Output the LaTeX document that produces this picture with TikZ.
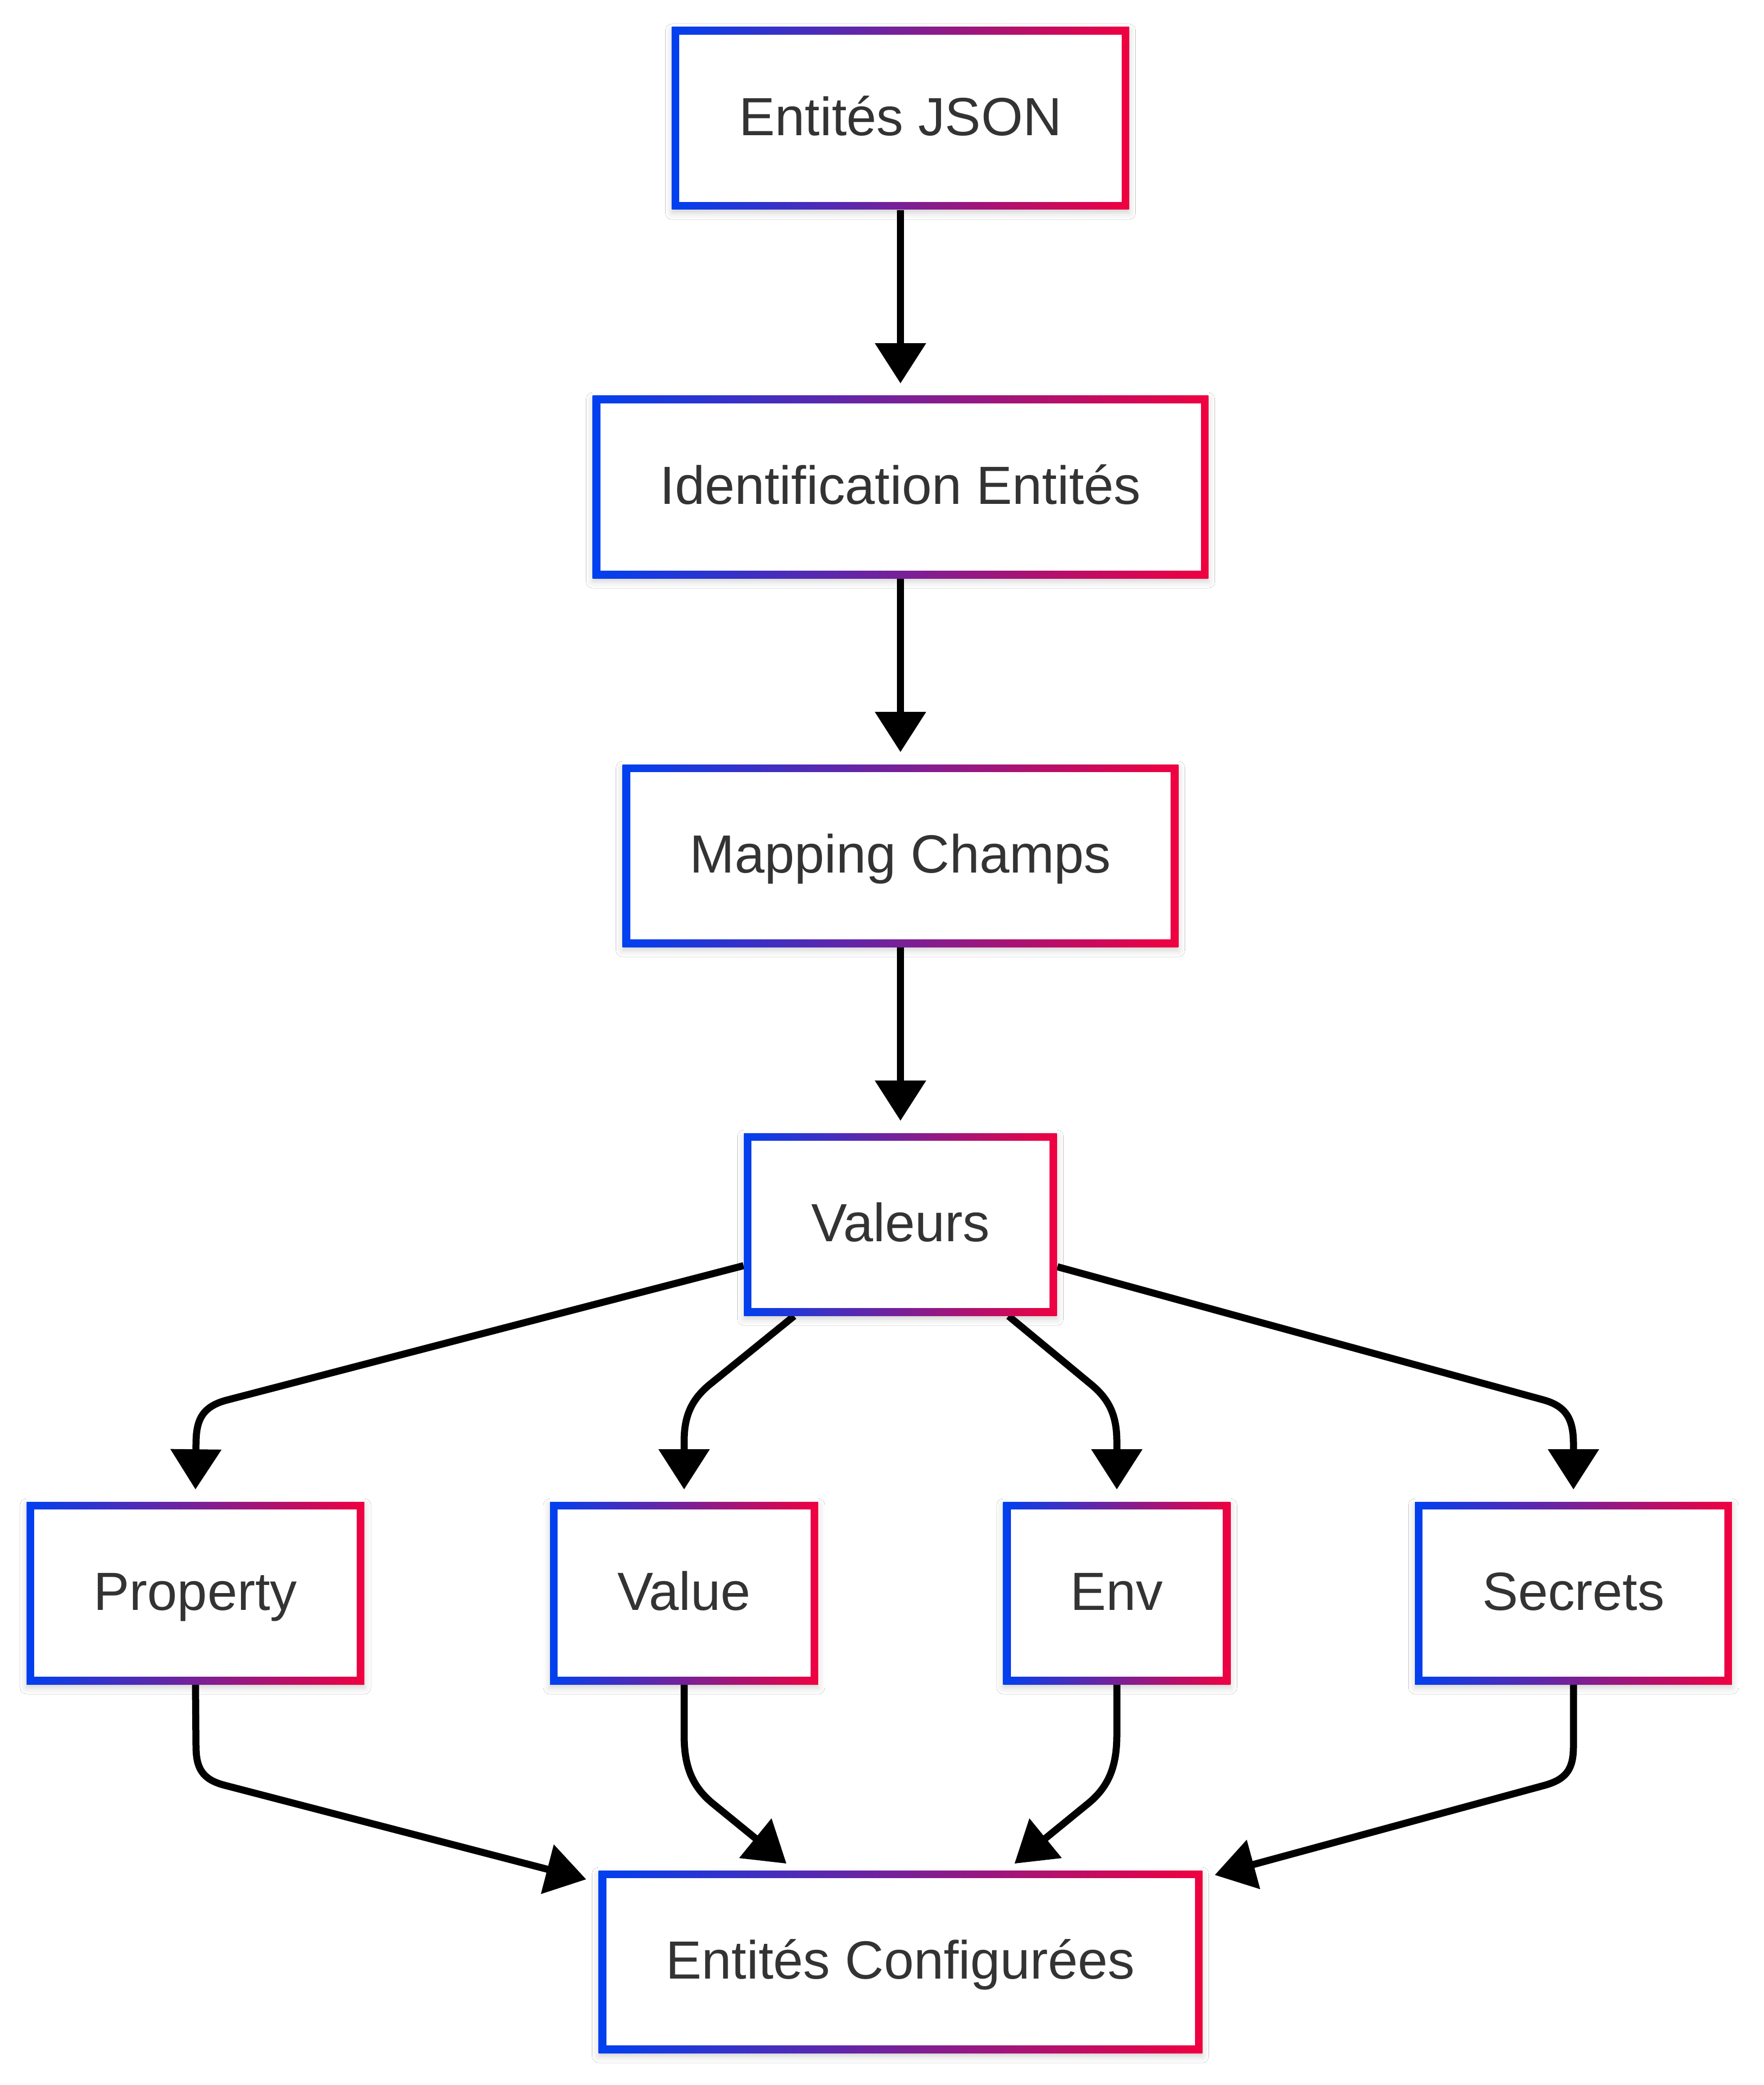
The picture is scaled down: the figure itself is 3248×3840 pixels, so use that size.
\documentclass[tikz,border=0pt]{standalone}
\usepackage{fontspec}
\setmainfont{Liberation Sans}
\usetikzlibrary{arrows.meta,calc,shadows.blur,backgrounds}
\definecolor{gblue}{RGB}{0,64,240}
\definecolor{gred}{RGB}{240,0,64}
\definecolor{txt}{RGB}{51,51,51}
\begin{document}
\begin{tikzpicture}[x=0.25pt,y=-0.25pt,
  box/.style={rectangle, draw=none, fill=white, minimum height=84pt,
    inner xsep=31pt, inner ysep=0pt, text height=17.3pt, text depth=1.35pt,
    font=\fontsize{24.75pt}{30pt}\selectfont, text=txt,
    blur shadow={shadow xshift=0pt, shadow yshift=-1.5pt, shadow blur radius=3pt, shadow opacity=18},
    path picture={
      \shade[left color=gblue, right color=gred]
        (path picture bounding box.south west) rectangle (path picture bounding box.north east);
      \fill[white]
        ([shift={(3.5pt,3.5pt)}]path picture bounding box.south west) rectangle
        ([shift={(-3.5pt,-3.5pt)}]path picture bounding box.north east);
    }},
  conn/.style={draw=black, line width=3.25pt, line join=round,
    -{Triangle[length=18.5pt,width=22.75pt]}}]
\useasboundingbox (0,0) rectangle (3248,3840);

\node[box] (J)  at (1658.5,218)  {Entités JSON};
\node[box] (I)  at (1658.5,897)  {Identification Entités};
\node[box] (M)  at (1658.5,1576) {Mapping Champs};
\node[box] (V)  at (1658.5,2255) {Valeurs};
\node[box] (P)  at (360,2934)    {Property};
\node[box] (Va) at (1260,2934)   {Value};
\node[box] (E)  at (2057,2934)   {Env};
\node[box] (S)  at (2898,2934)   {Secrets};
\node[box] (C)  at (1658.5,3613) {Entités Configurées};

\begin{scope}[on background layer]
\fill[white] (0,0) rectangle (3248,3840);
\draw[conn] (J.south) -- ($(I.north)+(0,-22)$);
\draw[conn] (I.south) -- ($(M.north)+(0,-22)$);
\draw[conn] (M.south) -- ($(V.north)+(0,-22)$);

\draw[conn] ($(V.west)+(0,76)$) -- (420,2578)
  .. controls (372,2590) and (361,2615) .. (361,2660) -- ($(P.north)+(0,-22)$);
\draw[conn] ($(V.south)+(-196,0)$) -- (1307,2550)
  .. controls (1272,2579) and (1260,2610) .. (1260,2655) -- ($(Va.north)+(0,-22)$);
\draw[conn] ($(V.south)+(199,0)$) -- (2010,2550)
  .. controls (2045,2579) and (2057,2610) .. (2057,2655) -- ($(E.north)+(0,-22)$);
\draw[conn] ($(V.east)+(0,78)$) -- (2842,2578)
  .. controls (2886,2590) and (2898,2615) .. (2898,2660) -- ($(S.north)+(0,-22)$);

\draw[conn] (P.south) -- (361,3215)
  .. controls (361,3255) and (371,3277) .. (414,3288) -- ($(C.north west)+(-22,17)$);
\draw[conn] (Va.south) -- (1260,3195)
  .. controls (1260,3250) and (1273,3288) .. (1311,3320) -- ($(C.north)+(-210,-12)$);
\draw[conn] (E.south) -- (2057,3195)
  .. controls (2057,3250) and (2044,3288) .. (2006,3320) -- ($(C.north)+(210,-12)$);
\draw[conn] (S.south) -- (2898,3215)
  .. controls (2898,3255) and (2888,3276) .. (2845,3288) -- ($(C.north east)+(22,9)$);
\end{scope}
\end{tikzpicture}
\end{document}
